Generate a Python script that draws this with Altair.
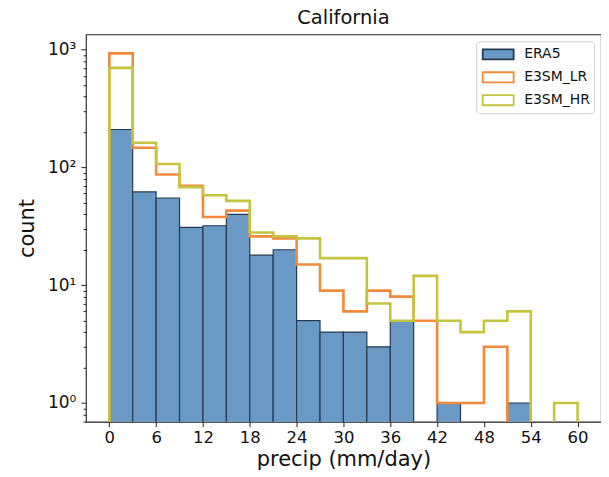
import altair as alt
import pandas as pd

# ---- data ----
edges = list(range(0, 63, 3))  # bin edges 0..60 (width 3)
era5 = [210, 62, 55, 31, 32, 40, 18, 20, 5, 4, 4, 3, 5, 0, 1, 0, 0, 1, 0, 0]
e3sm_lr = [930, 147, 87, 70, 38, 43, 26, 25, 15, 9, 6, 9, 8, 5, 1, 1, 3, 0, 0, 0]
e3sm_hr = [700, 162, 107, 68, 58, 52, 28, 26, 25, 17, 17, 7, 5, 12, 5, 4, 5, 6, 0, 1]
series_names = ["ERA5", "E3SM_LR", "E3SM_HR"]
x_ticks = list(range(0, 61, 6))
y_major = [1, 10, 100, 1000]
y_ticks = [0.7, 0.8, 0.9] + [m * 10 ** e for e in range(0, 3) for m in range(1, 10)] + [1000]
FLOOR = 0.01  # stands in for zero counts on the log scale (clipped away)

FONT = "DejaVu Sans"
C_FILL = "#6a99c6"
C_EDGE = "#263a4f"
C_LR = "#f28a3c"
C_HR = "#c4c43f"

bars = pd.DataFrame(
    [
        {"start": edges[i], "end": edges[i + 1], "count": c, "base": FLOOR, "series": "ERA5"}
        for i, c in enumerate(era5)
        if c > 0
    ]
)

rows = []
for name, vals in [("E3SM_LR", e3sm_lr), ("E3SM_HR", e3sm_hr)]:
    pts = [(edges[0], FLOOR)]
    for i, v in enumerate(vals):
        vv = v if v > 0 else FLOOR
        pts.append((edges[i], vv))
        pts.append((edges[i + 1], vv))
    pts.append((edges[-1], FLOOR))
    for k, (xv, yv) in enumerate(pts):
        rows.append({"series": name, "x": xv, "y": yv, "order": k})
steps = pd.DataFrame(rows)

x_scale = alt.Scale(domain=[-3, 63], nice=False, zero=False)
y_scale = alt.Scale(type="log", domain=[0.694, 1349], nice=False)
fill_scale = alt.Scale(domain=series_names, range=[C_FILL, "#ffffff", "#ffffff"])
stroke_scale = alt.Scale(domain=series_names, range=[C_EDGE, C_LR, C_HR])

x_axis = alt.Axis(
    values=x_ticks,
    title="precip (mm/day)",
    grid=False,
    domain=False,
    tickSize=5,
    tickColor="#222222",
    labelFont=FONT,
    labelFontSize=16.5,
    labelColor="#111111",
    labelPadding=3,
    titleFont=FONT,
    titleFontSize=21,
    titleFontWeight="normal",
    titleColor="#111111",
    titlePadding=2,
)

major_test = "datum.value == 1 || datum.value == 10 || datum.value == 100 || datum.value == 1000"
y_axis = alt.Axis(
    values=y_ticks,
    title="count",
    grid=False,
    domain=False,
    tickSize={"condition": {"test": major_test, "value": 5}, "value": 2.8},
    tickColor="#222222",
    labelExpr="datum.value == 1 ? '10⁰' : datum.value == 10 ? '10¹' : datum.value == 100 ? '10²' : datum.value == 1000 ? '10³' : ''",
    labelOverlap=False,
    labelFont=FONT,
    labelFontSize=17,
    labelColor="#111111",
    labelPadding=5,
    titleFont=FONT,
    titleFontSize=21,
    titleFontWeight="normal",
    titleColor="#111111",
    titlePadding=10,
)

legend = alt.Legend(
    title=None,
    orient="none",
    legendX=391,
    legendY=7,
    fillColor="white",
    strokeColor="#d0d0d0",
    cornerRadius=3,
    padding=4,
    symbolType="M-2,-0.65H2V0.65H-2Z",
    symbolSize=240,
    symbolOffset=9,
    symbolStrokeWidth=1.8,
    labelFont=FONT,
    labelFontSize=14,
    labelColor="#111111",
    rowPadding=5,
    labelOffset=17,
)

bar_layer = (
    alt.Chart(bars)
    .mark_bar(strokeWidth=1.2, clip=True)
    .encode(
        x=alt.X("start:Q", scale=x_scale, axis=x_axis),
        x2="end:Q",
        y=alt.Y("count:Q", scale=y_scale, axis=y_axis),
        y2="base:Q",
        fill=alt.Fill("series:N", scale=fill_scale, legend=legend),
        stroke=alt.Stroke("series:N", scale=stroke_scale, legend=legend),
    )
)

line_layer = (
    alt.Chart(steps)
    .mark_line(strokeWidth=2.6, clip=True, strokeJoin="miter", interpolate="linear")
    .encode(
        x=alt.X("x:Q", scale=x_scale, axis=x_axis),
        y=alt.Y("y:Q", scale=y_scale, axis=y_axis),
        order="order:Q",
        stroke=alt.Stroke("series:N", scale=stroke_scale, legend=legend),
    )
)

chart = (
    alt.layer(bar_layer, line_layer)
    .properties(
        width=516,
        height=388,
        title=alt.TitleParams(
            "California",
            font=FONT,
            fontSize=19.5,
            fontWeight="normal",
            color="#111111",
            offset=6,
        ),
        autosize="none",
        padding={"left": 78, "top": 26, "right": 0, "bottom": 50},
    )
    .configure_view(stroke="#222222", strokeWidth=1.1)
)

chart.save("out.html", embed_options={"renderer": "svg", "actions": False})
